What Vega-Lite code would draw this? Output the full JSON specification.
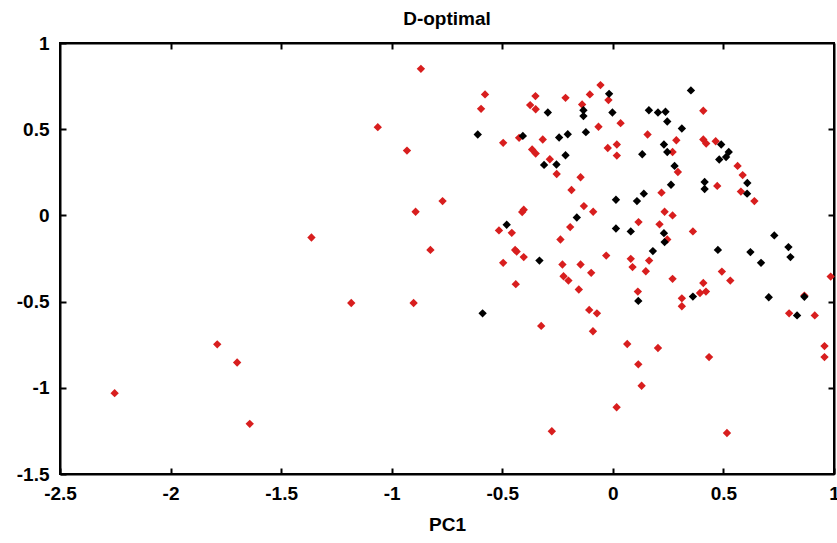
{
  "$schema": "https://vega.github.io/schema/vega-lite/v6.json",
  "autosize": {"type": "none"},
  "width": 774,
  "height": 431,
  "padding": {"left": 60, "top": 43, "right": 3, "bottom": 69},
  "background": "white",
  "config": {
    "font": "Liberation Sans",
    "view": {"stroke": "black", "strokeWidth": 2},
    "axis": {"grid": false, "labelFont": "Liberation Sans", "labelFontWeight": "bold", "labelFontSize": 19, "labelColor": "black", "domainColor": "black", "domainWidth": 2, "tickColor": "black", "tickWidth": 2, "tickSize": -6, "titleFont": "Liberation Sans", "titleFontWeight": "bold", "titleColor": "black"}
  },
  "title": {"text": "D-optimal", "font": "Liberation Sans", "fontSize": 19, "fontWeight": "bold", "color": "black", "offset": 5, "anchor": "middle"},
  "data": {"values": [
    {"pc1": -0.868, "pc2": 0.85, "grp": "r"},
    {"pc1": -1.063, "pc2": 0.512, "grp": "r"},
    {"pc1": -0.931, "pc2": 0.376, "grp": "r"},
    {"pc1": -0.892, "pc2": 0.021, "grp": "r"},
    {"pc1": -1.363, "pc2": -0.128, "grp": "r"},
    {"pc1": -0.770, "pc2": 0.083, "grp": "r"},
    {"pc1": -0.825, "pc2": -0.200, "grp": "r"},
    {"pc1": -1.183, "pc2": -0.508, "grp": "r"},
    {"pc1": -0.901, "pc2": -0.508, "grp": "r"},
    {"pc1": -1.789, "pc2": -0.748, "grp": "r"},
    {"pc1": -1.699, "pc2": -0.853, "grp": "r"},
    {"pc1": -2.253, "pc2": -1.031, "grp": "r"},
    {"pc1": -1.642, "pc2": -1.209, "grp": "r"},
    {"pc1": -0.578, "pc2": 0.702, "grp": "r"},
    {"pc1": -0.596, "pc2": 0.618, "grp": "r"},
    {"pc1": -0.496, "pc2": 0.421, "grp": "r"},
    {"pc1": -0.424, "pc2": 0.450, "grp": "r"},
    {"pc1": -0.350, "pc2": 0.692, "grp": "r"},
    {"pc1": -0.374, "pc2": 0.640, "grp": "r"},
    {"pc1": -0.349, "pc2": 0.616, "grp": "r"},
    {"pc1": -0.317, "pc2": 0.440, "grp": "r"},
    {"pc1": -0.214, "pc2": 0.682, "grp": "r"},
    {"pc1": -0.139, "pc2": 0.643, "grp": "r"},
    {"pc1": -0.104, "pc2": 0.702, "grp": "r"},
    {"pc1": -0.056, "pc2": 0.756, "grp": "r"},
    {"pc1": -0.020, "pc2": 0.669, "grp": "r"},
    {"pc1": 0.035, "pc2": 0.535, "grp": "r"},
    {"pc1": -0.065, "pc2": 0.514, "grp": "r"},
    {"pc1": -0.023, "pc2": 0.391, "grp": "r"},
    {"pc1": 0.018, "pc2": 0.411, "grp": "r"},
    {"pc1": 0.018, "pc2": 0.347, "grp": "r"},
    {"pc1": -0.365, "pc2": 0.382, "grp": "r"},
    {"pc1": -0.349, "pc2": 0.359, "grp": "r"},
    {"pc1": -0.285, "pc2": 0.326, "grp": "r"},
    {"pc1": -0.254, "pc2": 0.240, "grp": "r"},
    {"pc1": -0.146, "pc2": 0.221, "grp": "r"},
    {"pc1": -0.187, "pc2": 0.147, "grp": "r"},
    {"pc1": -0.131, "pc2": 0.054, "grp": "r"},
    {"pc1": -0.089, "pc2": 0.021, "grp": "r"},
    {"pc1": -0.403, "pc2": 0.033, "grp": "r"},
    {"pc1": -0.410, "pc2": 0.020, "grp": "r"},
    {"pc1": -0.193, "pc2": -0.068, "grp": "r"},
    {"pc1": -0.515, "pc2": -0.087, "grp": "r"},
    {"pc1": -0.457, "pc2": -0.101, "grp": "r"},
    {"pc1": -0.237, "pc2": -0.140, "grp": "r"},
    {"pc1": -0.442, "pc2": -0.200, "grp": "r"},
    {"pc1": -0.435, "pc2": -0.210, "grp": "r"},
    {"pc1": -0.403, "pc2": -0.242, "grp": "r"},
    {"pc1": -0.496, "pc2": -0.275, "grp": "r"},
    {"pc1": -0.228, "pc2": -0.285, "grp": "r"},
    {"pc1": -0.146, "pc2": -0.285, "grp": "r"},
    {"pc1": -0.098, "pc2": -0.333, "grp": "r"},
    {"pc1": -0.223, "pc2": -0.353, "grp": "r"},
    {"pc1": -0.201, "pc2": -0.378, "grp": "r"},
    {"pc1": -0.439, "pc2": -0.399, "grp": "r"},
    {"pc1": -0.154, "pc2": -0.430, "grp": "r"},
    {"pc1": -0.030, "pc2": -0.233, "grp": "r"},
    {"pc1": 0.116, "pc2": -0.039, "grp": "r"},
    {"pc1": 0.157, "pc2": 0.469, "grp": "r"},
    {"pc1": 0.409, "pc2": 0.607, "grp": "r"},
    {"pc1": 0.287, "pc2": 0.436, "grp": "r"},
    {"pc1": 0.270, "pc2": 0.368, "grp": "r"},
    {"pc1": 0.294, "pc2": 0.252, "grp": "r"},
    {"pc1": 0.220, "pc2": 0.132, "grp": "r"},
    {"pc1": 0.234, "pc2": 0.021, "grp": "r"},
    {"pc1": 0.270, "pc2": 0.000, "grp": "r"},
    {"pc1": 0.211, "pc2": -0.052, "grp": "r"},
    {"pc1": 0.246, "pc2": -0.140, "grp": "r"},
    {"pc1": 0.164, "pc2": -0.262, "grp": "r"},
    {"pc1": 0.081, "pc2": -0.252, "grp": "r"},
    {"pc1": 0.089, "pc2": -0.300, "grp": "r"},
    {"pc1": 0.149, "pc2": -0.324, "grp": "r"},
    {"pc1": 0.362, "pc2": -0.093, "grp": "r"},
    {"pc1": 0.409, "pc2": 0.440, "grp": "r"},
    {"pc1": 0.422, "pc2": 0.417, "grp": "r"},
    {"pc1": 0.465, "pc2": 0.430, "grp": "r"},
    {"pc1": 0.564, "pc2": 0.287, "grp": "r"},
    {"pc1": 0.587, "pc2": 0.234, "grp": "r"},
    {"pc1": 0.472, "pc2": 0.171, "grp": "r"},
    {"pc1": 0.579, "pc2": 0.138, "grp": "r"},
    {"pc1": 0.640, "pc2": 0.083, "grp": "r"},
    {"pc1": 0.493, "pc2": -0.326, "grp": "r"},
    {"pc1": 0.531, "pc2": -0.378, "grp": "r"},
    {"pc1": 0.985, "pc2": -0.355, "grp": "r"},
    {"pc1": 0.270, "pc2": -0.368, "grp": "r"},
    {"pc1": 0.409, "pc2": -0.392, "grp": "r"},
    {"pc1": 0.394, "pc2": -0.450, "grp": "r"},
    {"pc1": 0.421, "pc2": -0.442, "grp": "r"},
    {"pc1": 0.312, "pc2": -0.481, "grp": "r"},
    {"pc1": 0.312, "pc2": -0.527, "grp": "r"},
    {"pc1": 0.866, "pc2": -0.465, "grp": "r"},
    {"pc1": 0.797, "pc2": -0.568, "grp": "r"},
    {"pc1": 0.913, "pc2": -0.580, "grp": "r"},
    {"pc1": -0.324, "pc2": -0.641, "grp": "r"},
    {"pc1": -0.107, "pc2": -0.548, "grp": "r"},
    {"pc1": -0.072, "pc2": -0.568, "grp": "r"},
    {"pc1": -0.090, "pc2": -0.672, "grp": "r"},
    {"pc1": 0.113, "pc2": -0.442, "grp": "r"},
    {"pc1": 0.065, "pc2": -0.746, "grp": "r"},
    {"pc1": 0.204, "pc2": -0.769, "grp": "r"},
    {"pc1": 0.435, "pc2": -0.822, "grp": "r"},
    {"pc1": 0.115, "pc2": -0.864, "grp": "r"},
    {"pc1": 0.130, "pc2": -0.988, "grp": "r"},
    {"pc1": 0.017, "pc2": -1.113, "grp": "r"},
    {"pc1": -0.276, "pc2": -1.252, "grp": "r"},
    {"pc1": 0.516, "pc2": -1.262, "grp": "r"},
    {"pc1": 0.957, "pc2": -0.758, "grp": "r"},
    {"pc1": 0.957, "pc2": -0.822, "grp": "r"},
    {"pc1": -0.611, "pc2": 0.469, "grp": "b"},
    {"pc1": -0.407, "pc2": 0.461, "grp": "b"},
    {"pc1": -0.294, "pc2": 0.597, "grp": "b"},
    {"pc1": -0.243, "pc2": 0.452, "grp": "b"},
    {"pc1": -0.204, "pc2": 0.471, "grp": "b"},
    {"pc1": -0.133, "pc2": 0.610, "grp": "b"},
    {"pc1": -0.133, "pc2": 0.576, "grp": "b"},
    {"pc1": -0.017, "pc2": 0.705, "grp": "b"},
    {"pc1": -0.002, "pc2": 0.597, "grp": "b"},
    {"pc1": -0.122, "pc2": 0.483, "grp": "b"},
    {"pc1": -0.214, "pc2": 0.349, "grp": "b"},
    {"pc1": -0.311, "pc2": 0.293, "grp": "b"},
    {"pc1": -0.255, "pc2": 0.295, "grp": "b"},
    {"pc1": 0.014, "pc2": 0.091, "grp": "b"},
    {"pc1": -0.163, "pc2": -0.012, "grp": "b"},
    {"pc1": -0.480, "pc2": -0.054, "grp": "b"},
    {"pc1": -0.332, "pc2": -0.262, "grp": "b"},
    {"pc1": 0.014, "pc2": -0.076, "grp": "b"},
    {"pc1": 0.081, "pc2": -0.093, "grp": "b"},
    {"pc1": 0.109, "pc2": 0.083, "grp": "b"},
    {"pc1": 0.140, "pc2": 0.126, "grp": "b"},
    {"pc1": 0.133, "pc2": 0.355, "grp": "b"},
    {"pc1": 0.163, "pc2": 0.610, "grp": "b"},
    {"pc1": 0.204, "pc2": 0.597, "grp": "b"},
    {"pc1": 0.238, "pc2": 0.601, "grp": "b"},
    {"pc1": 0.246, "pc2": 0.545, "grp": "b"},
    {"pc1": 0.312, "pc2": 0.504, "grp": "b"},
    {"pc1": 0.353, "pc2": 0.725, "grp": "b"},
    {"pc1": 0.231, "pc2": 0.411, "grp": "b"},
    {"pc1": 0.246, "pc2": 0.368, "grp": "b"},
    {"pc1": 0.279, "pc2": 0.287, "grp": "b"},
    {"pc1": 0.263, "pc2": 0.178, "grp": "b"},
    {"pc1": 0.231, "pc2": -0.103, "grp": "b"},
    {"pc1": 0.234, "pc2": -0.155, "grp": "b"},
    {"pc1": 0.181, "pc2": -0.207, "grp": "b"},
    {"pc1": 0.490, "pc2": 0.411, "grp": "b"},
    {"pc1": 0.524, "pc2": 0.368, "grp": "b"},
    {"pc1": 0.481, "pc2": 0.324, "grp": "b"},
    {"pc1": 0.512, "pc2": 0.339, "grp": "b"},
    {"pc1": 0.608, "pc2": 0.188, "grp": "b"},
    {"pc1": 0.415, "pc2": 0.194, "grp": "b"},
    {"pc1": 0.415, "pc2": 0.153, "grp": "b"},
    {"pc1": 0.607, "pc2": 0.126, "grp": "b"},
    {"pc1": 0.730, "pc2": -0.116, "grp": "b"},
    {"pc1": 0.475, "pc2": -0.200, "grp": "b"},
    {"pc1": 0.622, "pc2": -0.213, "grp": "b"},
    {"pc1": 0.794, "pc2": -0.184, "grp": "b"},
    {"pc1": 0.803, "pc2": -0.242, "grp": "b"},
    {"pc1": 0.670, "pc2": -0.275, "grp": "b"},
    {"pc1": 0.362, "pc2": -0.471, "grp": "b"},
    {"pc1": 0.705, "pc2": -0.475, "grp": "b"},
    {"pc1": 0.866, "pc2": -0.472, "grp": "b"},
    {"pc1": 0.833, "pc2": -0.580, "grp": "b"},
    {"pc1": -0.589, "pc2": -0.568, "grp": "b"},
    {"pc1": 0.115, "pc2": -0.496, "grp": "b"}
  ]},
  "resolve": {"axis": {"x": "independent", "y": "independent"}},
  "layer": [
    {
      "mark": {"type": "point", "shape": "diamond", "filled": true, "size": 70, "opacity": 1},
      "encoding": {
        "x": {"field": "pc1", "type": "quantitative", "scale": {"domain": [-2.5, 1], "nice": false, "zero": false},
              "axis": {"orient": "bottom", "values": [-2.5, -2, -1.5, -1, -0.5, 0, 0.5, 1], "labelExpr": "'' + datum.value", "title": "PC1", "titleFontSize": 19, "titlePadding": 12, "labelPadding": 16, "labelFlush": false, "labelOverlap": false}},
        "y": {"field": "pc2", "type": "quantitative", "scale": {"domain": [-1.5, 1], "nice": false, "zero": false},
              "axis": {"orient": "left", "values": [-1.5, -1, -0.5, 0, 0.5, 1], "labelExpr": "'' + datum.value", "title": null, "labelPadding": 17, "labelFlush": false, "labelOverlap": false}},
        "color": {"field": "grp", "type": "nominal", "scale": {"domain": ["r", "b"], "range": ["#d81e1e", "#000000"]}, "legend": null}
      }
    },
    {
      "mark": {"type": "point", "opacity": 0},
      "encoding": {
        "x": {"field": "pc1", "type": "quantitative", "axis": {"orient": "top", "values": [-2, -1.5, -1, -0.5, 0, 0.5], "labels": false, "title": null}},
        "y": {"field": "pc2", "type": "quantitative", "axis": {"orient": "right", "values": [-1, -0.5, 0, 0.5], "labels": false, "title": null}}
      }
    }
  ]
}
